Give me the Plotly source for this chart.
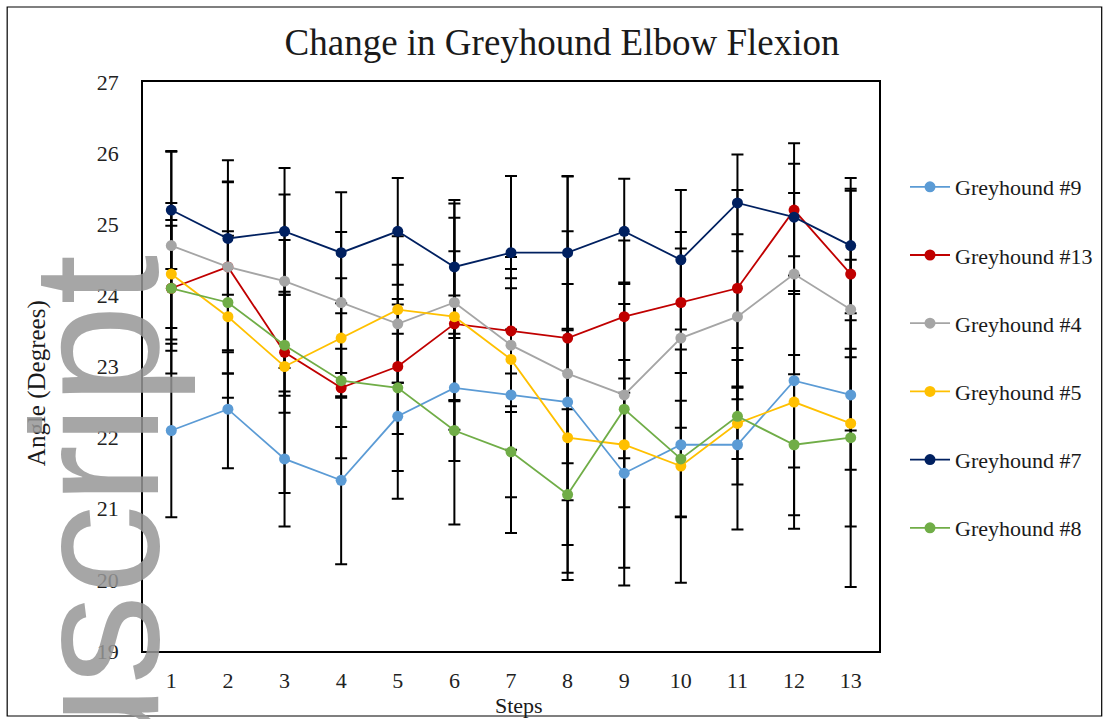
import plotly.graph_objects as go

steps = list(range(1, 14))

names = ["Greyhound #9", "Greyhound #13", "Greyhound #4", "Greyhound #5", "Greyhound #7", "Greyhound #8"]
colors = ["#5B9BD5", "#C00000", "#A5A5A5", "#FFC000", "#002060", "#70AD47"]

g9 = [22.1, 22.4, 21.7, 21.4, 22.3, 22.7, 22.6, 22.5, 21.5, 21.9, 21.9, 22.8, 22.6]
g13 = [24.1, 24.4, 23.2, 22.7, 23.0, 23.6, 23.5, 23.4, 23.7, 23.9, 24.1, 25.2, 24.3]
g4 = [24.7, 24.4, 24.2, 23.9, 23.6, 23.9, 23.3, 22.9, 22.6, 23.4, 23.7, 24.3, 23.8]
g5 = [24.3, 23.7, 23.0, 23.4, 23.8, 23.7, 23.1, 22.0, 21.9, 21.6, 22.2, 22.5, 22.2]
g7 = [25.2, 24.8, 24.9, 24.6, 24.9, 24.4, 24.6, 24.6, 24.9, 24.5, 25.3, 25.1, 24.7]
g8 = [24.1, 23.9, 23.3, 22.8, 22.7, 22.1, 21.8, 21.2, 22.4, 21.7, 22.3, 21.9, 22.0]

e9 = [1.22, 0.83, 0.95, 1.18, 1.16, 1.92, 1.94, 2.40, 1.33, 1.01, 1.19, 1.22, 1.05]
e13 = [1.20, 1.20, 0.85, 0.55, 0.95, 1.49, 0.60, 2.28, 1.07, 0.99, 1.38, 0.65, 1.17]
e4 = [1.32, 1.50, 1.22, 0.99, 0.83, 1.39, 0.94, 1.26, 1.58, 1.26, 1.16, 1.14, 1.70]
e5 = [0.76, 1.14, 1.78, 0.84, 1.03, 0.30, 1.27, 1.51, 1.98, 1.64, 0.50, 1.78, 2.30]
e7 = [0.83, 0.79, 0.89, 0.85, 0.75, 0.94, 1.08, 1.07, 0.74, 0.98, 0.68, 1.04, 0.95]
e8 = [0.88, 1.00, 0.71, 1.09, 1.17, 0.43, 0.64, 1.20, 0.69, 0.82, 0.96, 0.99, 1.25]

values = [g9, g13, g4, g5, g7, g8]
errors = [e9, e13, e4, e5, e7, e8]

yticks = [19, 20, 21, 22, 23, 24, 25, 26, 27]

W, H = 1109, 719
ML, MR, MT, MB = 143, 229, 82, 68
PW, PH = W - ML - MR, H - MT - MB

def px(x):
    return (x - ML) / PW

def py(y):
    return (H - MB - y) / PH

SERIF = "Liberation Serif, Times New Roman, serif"
TXT = "#1a1a1a"

fig = go.Figure()

# error bars first (under all lines/markers)
for name, v, e in zip(names, values, errors):
    fig.add_trace(go.Scatter(
        x=steps, y=v, mode="markers",
        marker=dict(size=1, color="rgba(0,0,0,0)"),
        error_y=dict(type="data", array=e, visible=True, color="black", thickness=2, width=6),
        showlegend=False, hoverinfo="skip",
    ))

for i, (name, v, c) in enumerate(zip(names, values, colors)):
    fig.add_trace(go.Scatter(
        x=steps, y=v, mode="lines+markers", name=name,
        line=dict(color=c, width=1.8),
        marker=dict(size=11, color=c),
        legendgroup="g%d" % i,
    ))

fig.update_layout(
    width=W, height=H,
    margin=dict(l=ML, r=MR, t=MT, b=MB),
    paper_bgcolor="white", plot_bgcolor="white",
    title=dict(text="Change in Greyhound Elbow Flexion", x=562 / W, xref="container", xanchor="center",
               y=1 - 42 / H, yref="container", yanchor="middle",
               font=dict(family=SERIF, size=37, color=TXT)),
    xaxis=dict(range=[0.5, 13.5], tickvals=steps, showgrid=False, zeroline=False,
               showline=True, mirror=True, linecolor="black", linewidth=1.8,
               ticks="outside", ticklen=9, tickcolor="rgba(0,0,0,0)",
               tickfont=dict(family=SERIF, size=22, color="#222")),
    yaxis=dict(range=[19, 27], tickvals=yticks, showgrid=False, zeroline=False,
               showline=True, mirror=True, linecolor="black", linewidth=1.8,
               ticks="outside", ticklen=18, tickcolor="rgba(0,0,0,0)",
               tickfont=dict(family=SERIF, size=22, color="#222")),
    legend=dict(x=px(905), y=py(166), xanchor="left", yanchor="top",
                font=dict(family=SERIF, size=22, color=TXT),
                tracegroupgap=36.6, itemwidth=40, bgcolor="rgba(0,0,0,0)"),
    showlegend=True,
)

fig.add_annotation(text="Angle (Degrees)", textangle=-90, xref="paper", yref="paper",
                   x=px(37), y=py(383), xanchor="center", yanchor="middle", showarrow=False,
                   font=dict(family=SERIF, size=25, color=TXT))
fig.add_annotation(text="Steps", xref="paper", yref="paper",
                   x=px(520), y=py(705), xanchor="center", yanchor="middle", showarrow=False,
                   font=dict(family=SERIF, size=22, color=TXT))

# watermark (manuscript margin stamp)
fig.add_annotation(text="Manuscript", textangle=-90, xref="paper", yref="paper",
                   x=px(96), y=py(695), xanchor="center", yanchor="middle", showarrow=False,
                   font=dict(family="Liberation Sans, Arial, sans-serif", size=180, color="rgba(150,150,150,0.85)"))

# outer frame
fig.add_shape(type="rect", xref="paper", yref="paper",
              x0=px(7), x1=px(1103), y0=py(716), y1=py(7),
              line=dict(color="black", width=1.2))

fig.write_html("out.html")
